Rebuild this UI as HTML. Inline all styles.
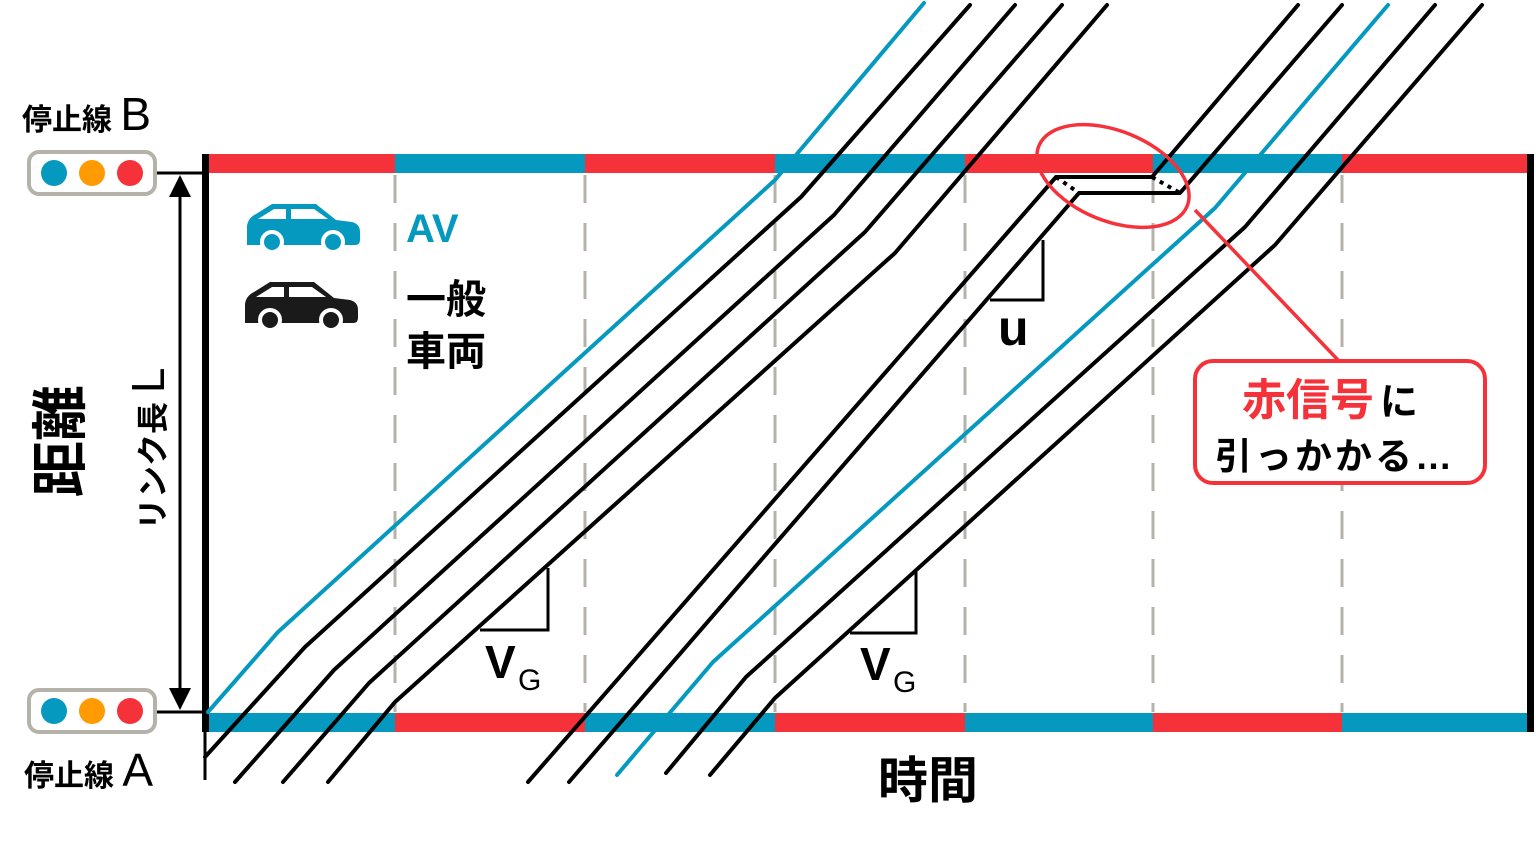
<!DOCTYPE html>
<html><head><meta charset="utf-8"><style>
html,body{margin:0;padding:0;background:#fff;}
svg{display:block;}
text{font-family:"Liberation Sans","Noto Sans CJK JP",sans-serif;}
</style></head><body>
<svg width="1536" height="842" viewBox="0 0 1536 842" xmlns="http://www.w3.org/2000/svg">
<g stroke="#b5b2aa" stroke-width="3" stroke-dasharray="28,20">
<line x1="395" y1="175" x2="395" y2="712"/>
<line x1="585" y1="175" x2="585" y2="712"/>
<line x1="775" y1="175" x2="775" y2="712"/>
<line x1="965" y1="175" x2="965" y2="712"/>
<line x1="1153" y1="175" x2="1153" y2="712"/>
<line x1="1342" y1="175" x2="1342" y2="712"/>
</g>
<rect x="205" y="154" width="190" height="19" fill="#f5323a"/>
<rect x="395" y="154" width="190" height="19" fill="#0599bf"/>
<rect x="585" y="154" width="190" height="19" fill="#f5323a"/>
<rect x="775" y="154" width="190" height="19" fill="#0599bf"/>
<rect x="965" y="154" width="188" height="19" fill="#f5323a"/>
<rect x="1153" y="154" width="189" height="19" fill="#0599bf"/>
<rect x="1342" y="154" width="188" height="19" fill="#f5323a"/>
<rect x="205" y="713" width="190" height="19" fill="#0599bf"/>
<rect x="395" y="713" width="190" height="19" fill="#f5323a"/>
<rect x="585" y="713" width="190" height="19" fill="#0599bf"/>
<rect x="775" y="713" width="190" height="19" fill="#f5323a"/>
<rect x="965" y="713" width="188" height="19" fill="#0599bf"/>
<rect x="1153" y="713" width="189" height="19" fill="#f5323a"/>
<rect x="1342" y="713" width="188" height="19" fill="#0599bf"/>
<rect x="202" y="154" width="7" height="578" fill="#000"/>
<line x1="205" y1="730" x2="205" y2="780" stroke="#000" stroke-width="3"/>
<rect x="1527" y="154" width="7" height="578" fill="#000"/>
<g fill="none" stroke-width="4" stroke-linejoin="round" stroke-linecap="round">
<polyline stroke="#0599bf" points="208,712 278,632 775,180 924,3"/>
<polyline stroke="#000" points="205,757 305,647 801,197 970,5"/>
<polyline stroke="#000" points="235,782 334,670 834,215 1015,5"/>
<polyline stroke="#000" points="283,782 369,683 865,232 1062,5"/>
<polyline stroke="#000" points="328,782 395,702 895,253 1107,5"/>
<polyline stroke="#000" points="528,782 1056,177 1152,177 1298,5"/>
<polyline stroke="#000" points="569,782 1079,193 1180,193 1342,5"/>
<polyline stroke="#0599bf" points="617,775 713,662 1215,208 1388,5"/>
<polyline stroke="#000" points="666,773 746,677 1245,227 1435,5"/>
<polyline stroke="#000" points="710,775 775,698 1275,245 1482,5"/>
</g>
<g stroke="#000" stroke-width="4" stroke-dasharray="4,5" fill="none">
<line x1="1056" y1="177" x2="1079" y2="193"/>
<line x1="1152" y1="177" x2="1180" y2="193"/>
</g>
<g fill="none" stroke="#000" stroke-width="3">
<polyline points="480,630 548,630 548,568"/>
<polyline points="850,633 916,633 916,572"/>
<polyline points="990,300 1043,300 1043,240"/>
</g>
<text x="485" y="678" font-size="46" font-weight="bold">V</text>
<text x="518" y="690" font-size="30">G</text>
<text x="860" y="680" font-size="46" font-weight="bold">V</text>
<text x="893" y="692" font-size="30">G</text>
<text x="998" y="345" font-size="50" font-weight="bold">u</text>
<ellipse cx="1113" cy="176" rx="80" ry="45" transform="rotate(22 1113 176)" fill="none" stroke="#f5323a" stroke-width="3.5"/>
<line x1="1195" y1="210" x2="1338" y2="360" stroke="#f5323a" stroke-width="3.5"/>
<rect x="1195" y="361" width="290" height="122" rx="18" fill="#fff" stroke="#f5323a" stroke-width="4"/>
<text x="1242" y="415" font-size="44" fill="#f5323a" font-weight="bold">赤信号<tspan fill="#000" font-size="38" dx="6">に</tspan></text>
<text x="1215" y="469" font-size="37" letter-spacing="3" font-weight="bold">引っかかる…</text>
<rect x="29" y="152" width="126" height="42" rx="10" fill="#fff" stroke="#b5b2aa" stroke-width="4"/>
<circle cx="54" cy="173" r="13" fill="#0599bf"/><circle cx="92" cy="173" r="13" fill="#ff9a00"/><circle cx="130" cy="173" r="13" fill="#f5323a"/>
<rect x="29" y="690" width="126" height="42" rx="10" fill="#fff" stroke="#b5b2aa" stroke-width="4"/>
<circle cx="54" cy="711" r="13" fill="#0599bf"/><circle cx="92" cy="711" r="13" fill="#ff9a00"/><circle cx="130" cy="711" r="13" fill="#f5323a"/>
<line x1="157" y1="173" x2="205" y2="173" stroke="#000" stroke-width="3"/>
<line x1="157" y1="712" x2="205" y2="712" stroke="#000" stroke-width="3"/>
<line x1="180" y1="190" x2="180" y2="695" stroke="#000" stroke-width="3"/>
<polygon points="180,175 169,197 191,197" fill="#000"/>
<polygon points="180,710 169,688 191,688" fill="#000"/>
<text x="22" y="130" font-size="30" font-weight="bold">停止線 <tspan font-size="46" font-weight="normal">B</tspan></text>
<text x="24" y="786" font-size="30" font-weight="bold">停止線 <tspan font-size="46" font-weight="normal">A</tspan></text>
<text transform="translate(164,530) rotate(-90)" font-size="32" font-weight="bold">リンク長 <tspan font-size="46" font-weight="normal">L</tspan></text>
<text transform="translate(80,497) rotate(-90)" font-size="56" font-weight="bold">距離</text>
<text x="878" y="798" font-size="50" font-weight="bold">時間</text>
<g fill="#0599bf">
<path d="M247,238 L247,226 Q248,218 256,214 L272,204 L316,204 L336,220 L352,222 Q360,224 360,232 L360,240 Q360,245 355,245 L247,245 Z"/>
<circle cx="272" cy="242" r="10" stroke="#fff" stroke-width="4"/>
<circle cx="333" cy="242" r="10" stroke="#fff" stroke-width="4"/>
<path d="M258,219 L274,209 L286,209 L286,219 Z M291,209 L314,209 L328,219 L291,219 Z" fill="#fff"/>
</g>
<g fill="#1a1a1a">
<path d="M245,316 L245,304 Q246,296 254,292 L270,282 L314,282 L334,298 L350,300 Q358,302 358,310 L358,318 Q358,323 353,323 L245,323 Z"/>
<circle cx="270" cy="320" r="10" stroke="#fff" stroke-width="4"/>
<circle cx="331" cy="320" r="10" stroke="#fff" stroke-width="4"/>
<path d="M256,297 L272,287 L284,287 L284,297 Z M289,287 L312,287 L326,297 L289,297 Z" fill="#fff"/>
</g>
<text x="406" y="242" font-size="40" fill="#0599bf" font-weight="bold">AV</text>
<text x="406" y="313" font-size="40" font-weight="bold">一般</text>
<text x="406" y="365" font-size="40" font-weight="bold">車両</text>
</svg>
</body></html>
